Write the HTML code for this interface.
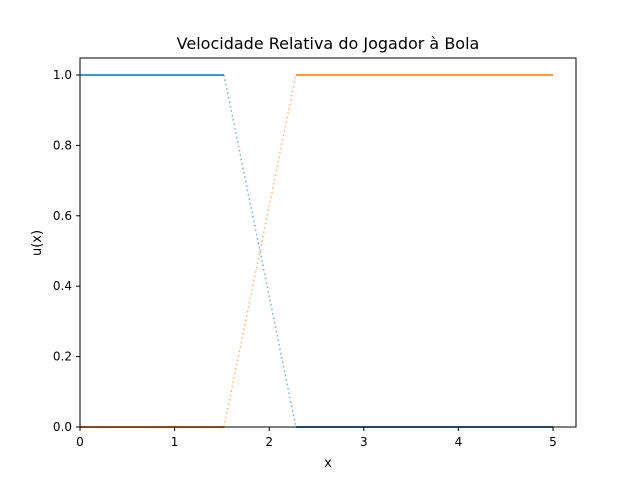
<!DOCTYPE html>
<html><head><meta charset="utf-8"><style>
body{margin:0;background:#fff;font-family:"Liberation Sans","DejaVu Sans",sans-serif}
</style></head><body>
<svg id="c" width="640" height="480" xmlns="http://www.w3.org/2000/svg" font-family="DejaVu Sans, Liberation Sans, sans-serif">
<rect width="640" height="480" fill="#fff"/>
<text x="328" y="49" text-anchor="middle" font-size="16">Velocidade Relativa do Jogador à Bola</text>
<g id="plot"></g>
<rect x="80" y="58" width="496" height="369" fill="none" stroke="#000" stroke-width="1"/>
<text x="328" y="467" text-anchor="middle" font-size="13">x</text>
<text transform="translate(41,243) rotate(-90)" text-anchor="middle" font-size="13">u(x)</text>
</svg>
<script>
const xTicks=[0,1,2,3,4,5];
const yTicks=[0.0,0.2,0.4,0.6,0.8,1.0];
const blueX=[0,1.522,2.283,5];
const blueY=[1,1,0,0];
const orangeX=[0,1.522,2.283,5];
const orangeY=[0,0,1,1];
const X=v=>80+v*94.6, Y=v=>427-v*352;
const svg=document.getElementById('c'), g=document.getElementById('plot'), ns='http://www.w3.org/2000/svg';
function mk(t,a,p){const e=document.createElementNS(ns,t);for(const k in a)e.setAttribute(k,a[k]);(p||svg).appendChild(e);return e;}
xTicks.forEach(v=>{
 const l=mk('line',{x1:X(v),x2:X(v),y1:427,y2:431,stroke:'#000'});
 
 
 const t=mk('text',{x:X(v),y:446,'text-anchor':'middle','font-size':12});t.textContent=v;
 
 
});
yTicks.forEach(v=>{
 const l=mk('line',{x1:76,x2:80,y1:Y(v),y2:Y(v),stroke:'#000'});
 
 
 const t=mk('text',{x:72,y:Y(v)+4,'text-anchor':'end','font-size':12});t.textContent=v.toFixed(1);
 
 
});
function series(xs,ys,col,name){
 for(let i=0;i<xs.length-1;i++){
  const flat=ys[i]===ys[i+1];
  const l=mk('line',{x1:X(xs[i]),y1:Y(ys[i]),x2:X(xs[i+1]),y2:Y(ys[i+1]),stroke:col,'stroke-opacity':flat?0.8:0.6,'stroke-width':flat?2:1.5,'stroke-dasharray':flat?'none':'1.5 3'},g);
  
  
 }
}
series(blueX,blueY,'#1f77b4','blue-series');
series(orangeX,orangeY,'#ff7f0e','orange-series');
</script>
</body></html>
